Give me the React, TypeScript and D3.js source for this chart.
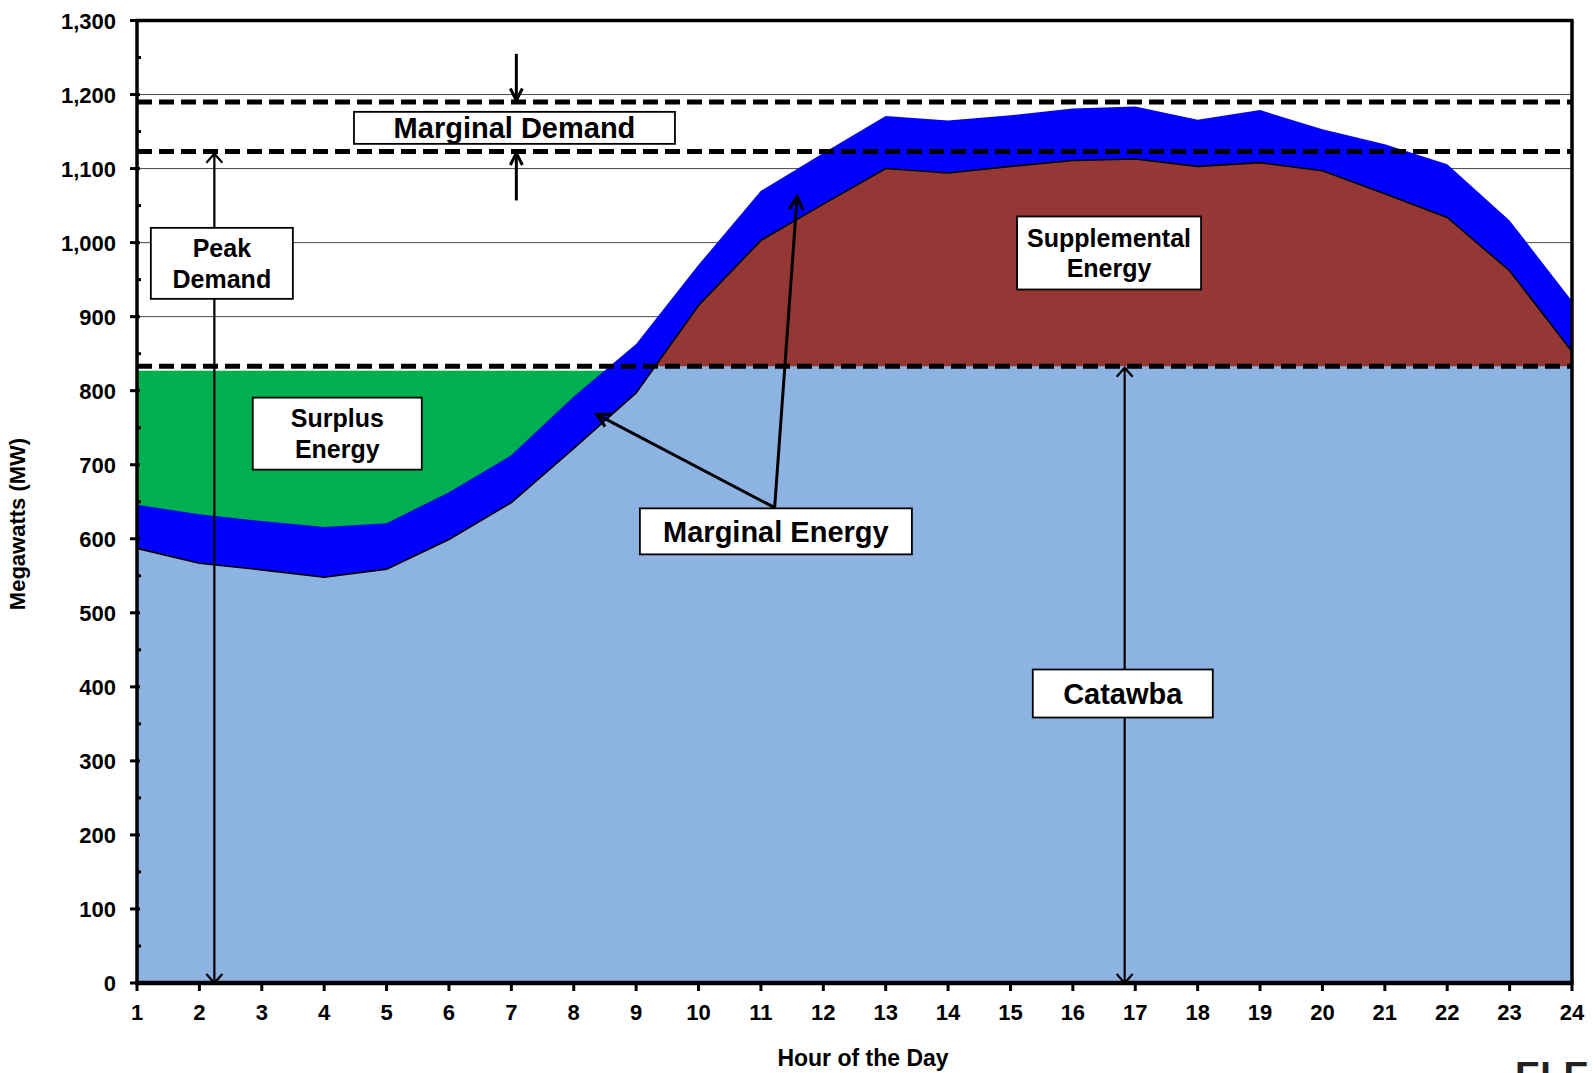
import React from 'react';
import * as d3 from 'd3';

// ---------- data ----------
const hours = [1, 2, 3, 4, 5, 6, 7, 8, 9, 10, 11, 12, 13, 14, 15, 16, 17, 18, 19, 20, 21, 22, 23, 24];
// Catawba load curve (lower edge of the marginal band)
const catawbaLoadMW = [587, 567, 558, 548, 559, 599, 649, 722, 797, 915, 1003, 1052, 1100, 1094, 1103, 1111, 1113, 1103, 1108, 1097, 1066, 1034, 962, 853];
// load + marginal energy (upper edge of the blue band)
const loadPlusMarginalMW = [646, 633, 624, 616, 621, 663, 713, 792, 863, 970, 1070, 1121, 1171, 1165, 1172, 1181, 1184, 1166, 1179, 1153, 1133, 1106, 1030, 921];
const yTickValues = [0, 100, 200, 300, 400, 500, 600, 700, 800, 900, 1000, 1100, 1200, 1300];
const yMinorTickValues = [50, 150, 250, 350, 450, 550, 650, 750, 850, 950, 1050, 1150, 1250];
const xTickValues = hours;
const marginalDemandMW = 1190;
const peakDemandMW = 1123;
const catawbaCapacityMW = 833;
const surplusCeilingMW = 827;

// annotation boxes: center in data units, lines of text
const boxLabels = [
  { lines: ['Marginal Demand'], h: 7.05, v: 1155, w: 321, ht: 32, fs: 29 },
  { lines: ['Peak', 'Demand'], h: 2.36, v: 972, w: 142, ht: 71, fs: 25 },
  { lines: ['Surplus', 'Energy'], h: 4.21, v: 742, w: 169, ht: 72, fs: 25 },
  { lines: ['Supplemental', 'Energy'], h: 16.58, v: 986, w: 184, ht: 73, fs: 25 },
  { lines: ['Marginal Energy'], h: 11.24, v: 610, w: 272, ht: 46, fs: 29 },
  { lines: ['Catawba'], h: 16.8, v: 391, w: 180, ht: 48, fs: 29 },
];

const W = 1595;
const H = 1073;
const FONT = '"Liberation Sans", Arial, Helvetica, sans-serif';

const x = d3.scaleLinear().domain([1, 24]).range([137, 1572]);
const y = d3.scaleLinear().domain([0, 1300]).range([983, 20.5]);

function chevron(tx: number, ty: number, fx: number, fy: number, len: number, half: number) {
  // tip (tx,ty), arrow coming from (fx,fy)
  const dx = tx - fx;
  const dy = ty - fy;
  const d = Math.hypot(dx, dy) || 1;
  const ux = dx / d;
  const uy = dy / d;
  const bx = tx - ux * len;
  const by = ty - uy * len;
  const px = -uy * half;
  const py = ux * half;
  return `M${bx + px},${by + py}L${tx},${ty}L${bx - px},${by - py}`;
}

export default function App() {
  const data = hours.map((h, i) => ({ h, base: catawbaLoadMW[i], top: loadPlusMarginalMW[i] }));

  // where the top of the marginal band crosses the surplus ceiling
  let hCross = hours[hours.length - 1];
  for (let i = 0; i < data.length - 1; i++) {
    if (data[i].top < surplusCeilingMW && data[i + 1].top >= surplusCeilingMW) {
      const t = (surplusCeilingMW - data[i].top) / (data[i + 1].top - data[i].top);
      hCross = data[i].h + t;
      break;
    }
  }

  const topArea = d3.area<any>().x((d) => x(d.h)).y0(y(0)).y1((d) => y(d.top));
  const baseArea = d3.area<any>().x((d) => x(d.h)).y0(y(0)).y1((d) => y(d.base));
  const baseLine = d3.line<any>().x((d) => x(d.h)).y((d) => y(d.base));

  const x0 = x(1);
  const x1 = x(24);

  const dashed = [marginalDemandMW, peakDemandMW, catawbaCapacityMW];

  // arrows
  const peakX = x(2.24);
  const catX = x(16.83);
  const mdX = x(7.08);
  const meOrigin = { h: 11.22, v: 642 };
  const meTips = [
    { h: 8.37, v: 768 },
    { h: 11.58, v: 1062 },
  ];

  return (
    <svg width={W} height={H} style={{ position: 'absolute', left: 0, top: 0, background: '#fff' }} fontFamily={FONT}>
      <defs>
        <clipPath id="aboveCap">
          <rect x={0} y={0} width={W} height={y(catawbaCapacityMW)} />
        </clipPath>
      </defs>
      <rect x={0} y={0} width={W} height={H} fill="#fff" />

      {/* gridlines */}
      {yTickValues
        .filter((v) => v > 0 && v < 1300)
        .map((v) => (
          <line key={'g' + v} x1={x0} x2={x1} y1={y(v)} y2={y(v)} stroke="#4a4a4a" strokeWidth={1} />
        ))}

      {/* surplus energy */}
      <rect x={x0} y={y(surplusCeilingMW)} width={x(hCross) - x0} height={y(0) - y(surplusCeilingMW)} fill="#00B050" />
      {/* marginal band */}
      <path d={topArea(data) || ''} fill="#0000FF" />
      {/* catawba */}
      <path d={baseArea(data) || ''} fill="#8DB3E2" />
      {/* supplemental */}
      <path d={baseArea(data) || ''} fill="#953735" clipPath="url(#aboveCap)" />
      <path d={baseLine(data) || ''} fill="none" stroke="#000" strokeWidth={1.6} />

      {/* dashed reference lines */}
      {dashed.map((v) => (
        <line key={'d' + v} x1={x0} x2={x1} y1={y(v)} y2={y(v)} stroke="#000" strokeWidth={5} strokeDasharray="15 7" />
      ))}

      {/* peak demand arrow */}
      <line x1={peakX} x2={peakX} y1={y(0)} y2={y(1120)} stroke="#000" strokeWidth={2.2} />
      <path d={chevron(peakX, y(1120), peakX, y(0), 9, 8)} fill="none" stroke="#000" strokeWidth={2.2} />
      <path d={chevron(peakX, y(0), peakX, y(1120), 9, 8)} fill="none" stroke="#000" strokeWidth={2.2} />

      {/* catawba arrow */}
      <line x1={catX} x2={catX} y1={y(0)} y2={y(831)} stroke="#000" strokeWidth={2.2} />
      <path d={chevron(catX, y(831), catX, y(0), 9, 8)} fill="none" stroke="#000" strokeWidth={2.2} />
      <path d={chevron(catX, y(0), catX, y(831), 9, 8)} fill="none" stroke="#000" strokeWidth={2.2} />

      {/* marginal demand arrows */}
      <line x1={mdX} x2={mdX} y1={y(1255)} y2={y(1192)} stroke="#000" strokeWidth={3} />
      <path d={chevron(mdX, y(1192), mdX, y(1255), 12, 6)} fill="none" stroke="#000" strokeWidth={3} />
      <line x1={mdX} x2={mdX} y1={y(1057)} y2={y(1121)} stroke="#000" strokeWidth={3} />
      <path d={chevron(mdX, y(1121), mdX, y(1057), 12, 6)} fill="none" stroke="#000" strokeWidth={3} />

      {/* marginal energy arrows */}
      {meTips.map((t, i) => (
        <g key={'me' + i}>
          <line x1={x(meOrigin.h)} y1={y(meOrigin.v)} x2={x(t.h)} y2={y(t.v)} stroke="#000" strokeWidth={3} />
          <path
            d={chevron(x(t.h), y(t.v), x(meOrigin.h), y(meOrigin.v), 13, 7)}
            fill="none"
            stroke="#000"
            strokeWidth={3}
          />
        </g>
      ))}

      {/* annotation boxes */}
      {boxLabels.map((b, i) => {
        const cx = x(b.h);
        const cy = y(b.v);
        const n = b.lines.length;
        const lh = 30.5;
        return (
          <g key={'b' + i}>
            <rect x={cx - b.w / 2} y={cy - b.ht / 2} width={b.w} height={b.ht} fill="#fff" stroke="#000" strokeWidth={1.8} />
            {b.lines.map((ln, j) => (
              <text
                key={j}
                x={cx}
                y={cy + (j - (n - 1) / 2) * lh + b.fs * 0.36}
                textAnchor="middle"
                fontSize={b.fs}
                fontWeight="bold"
                fill="#000"
              >
                {ln}
              </text>
            ))}
          </g>
        );
      })}

      {/* frame / axes */}
      <line x1={x0 - 1.5} x2={x1 + 1.5} y1={y(1300)} y2={y(1300)} stroke="#000" strokeWidth={3.5} />
      <line x1={x1} x2={x1} y1={y(1300)} y2={y(0)} stroke="#000" strokeWidth={3.5} />
      <line x1={x0} x2={x0} y1={y(1300)} y2={y(0)} stroke="#000" strokeWidth={3.5} />
      <line x1={x0 - 1.5} x2={x1 + 1.5} y1={y(0)} y2={y(0)} stroke="#000" strokeWidth={4.5} />

      {/* y ticks */}
      {yTickValues.map((v) => (
        <g key={'yt' + v}>
          <line x1={x0 - 7} x2={x0 + 3} y1={y(v)} y2={y(v)} stroke="#000" strokeWidth={3} />
          <text x={116} y={y(v) + 8} textAnchor="end" fontSize={22} fontWeight="bold" fill="#000">
            {d3.format(',')(v)}
          </text>
        </g>
      ))}
      {yMinorTickValues.map((v) => (
        <line key={'ym' + v} x1={x0} x2={x0 + 4} y1={y(v)} y2={y(v)} stroke="#000" strokeWidth={3} />
      ))}

      {/* x ticks */}
      {xTickValues.map((h) => (
        <g key={'xt' + h}>
          <line x1={x(h)} x2={x(h)} y1={y(0)} y2={y(0) + 8} stroke="#000" strokeWidth={3} />
          <text x={x(h)} y={1020} textAnchor="middle" fontSize={22} fontWeight="bold" fill="#000">
            {h}
          </text>
        </g>
      ))}

      {/* axis titles */}
      <text
        x={0}
        y={0}
        transform={`translate(25,524) rotate(-90)`}
        textAnchor="middle"
        fontSize={22}
        fontWeight="bold"
        fill="#000"
      >
        Megawatts (MW)
      </text>
      <text x={863} y={1066} textAnchor="middle" fontSize={23} fontWeight="bold" fill="#000">
        Hour of the Day
      </text>

      {/* cropped logo text */}
      <text x={1515} y={1089} fontSize={38} fontWeight="bold" fill="#222">
        ELE
      </text>
    </svg>
  );
}
